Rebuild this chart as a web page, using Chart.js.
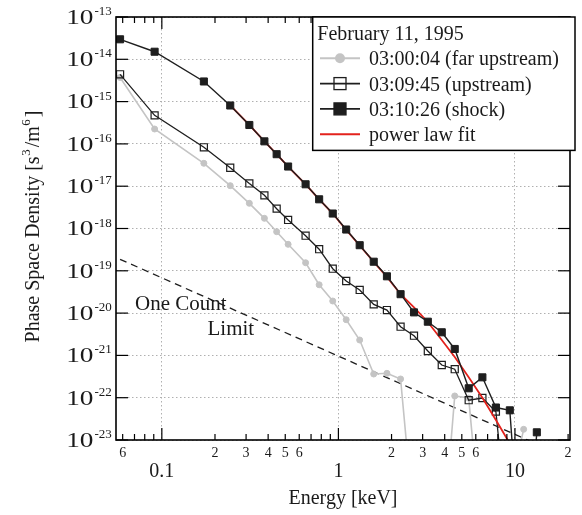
<!DOCTYPE html>
<html><head><meta charset="utf-8">
<script src="https://cdn.jsdelivr.net/npm/chart.js@4"></script>
<style>html,body{margin:0;padding:0;background:#fff}</style>
</head><body>
<canvas id="c" width="582" height="515"></canvas>
<script>
// ---- data ----
const energy = [0.058, 0.091, 0.173, 0.244, 0.313, 0.381, 0.447, 0.519, 0.652, 0.778, 0.929, 1.107, 1.32, 1.585, 1.883, 2.25, 2.68, 3.21, 3.85, 4.56, 5.47, 6.54, 7.80, 9.35, 11.2, 13.3];
const farUpstream = [3.72e-15, 2.25e-16, 3.48e-17, 1.03e-17, 3.94e-18, 1.74e-18, 8.40e-19, 4.23e-19, 1.55e-19, 4.67e-20, 1.93e-20, 6.98e-21, 2.31e-21, 3.63e-22, 3.77e-22, 2.77e-22, 1.0e-25, 3e-26, 2e-26, 1.10e-22, 9.8e-23, 3e-26, 1e-26, 6e-25, 1.79e-23, null];
const upstream = [4.42e-15, 4.74e-16, 8.31e-17, 2.73e-17, 1.16e-17, 6.09e-18, 2.94e-18, 1.59e-18, 6.76e-19, 3.24e-19, 1.12e-19, 5.74e-20, 3.52e-20, 1.61e-20, 1.18e-20, 4.77e-21, 2.92e-21, 1.27e-21, 5.93e-22, 4.72e-22, 8.73e-23, 9.84e-23, 4.67e-23, 2.4e-26, null, null];
const shock = [2.97e-14, 1.51e-14, 2.99e-15, 8.09e-16, 2.80e-16, 1.15e-16, 5.71e-17, 2.92e-17, 1.11e-17, 4.90e-18, 2.26e-18, 9.46e-19, 4.03e-19, 1.64e-19, 7.41e-20, 2.80e-20, 1.04e-20, 6.26e-21, 3.52e-21, 1.42e-21, 1.67e-22, 3.03e-22, 5.86e-23, 5.03e-23, 1.5e-27, 1.52e-23];
const powerLawFit = [null, null, null, 8.09e-16, 2.80e-16, 1.15e-16, 5.71e-17, 2.92e-17, 1.11e-17, 4.90e-18, 2.26e-18, 9.23e-19, 3.96e-19, 1.62e-19, 7.13e-20, 2.82e-20, 1.36e-20, 6.16e-21, 2.31e-21, 9.16e-22, 3.03e-22, 9.95e-23, 2.97e-23, 8.26e-24, null, null];
const limitEnergy = [0.058, 13.3];
const limitValue = [1.87e-19, 8.0e-24];

const xTicks = [0.06, 0.07, 0.08, 0.09, 0.1, 0.2, 0.3, 0.4, 0.5, 0.6, 0.7, 0.8, 0.9, 1, 2, 3, 4, 5, 6, 7, 8, 9, 10, 20];
const xTickLabels = ['6', '', '', '', '', '2', '3', '4', '5', '6', '', '', '', '', '2', '3', '4', '5', '6', '', '', '', '', '2'];
const xMajorTicks = [0.1, 1, 10];
const xMajorLabels = ['0.1', '1', '10'];
const yExponents = [-13, -14, -15, -16, -17, -18, -19, -20, -21, -22, -23];
const yTickLabels = ['-13', '-14', '-15', '-16', '-17', '-18', '-19', '-20', '-21', '-22', '-23'];

const legendTitle = 'February 11, 1995';
const FONT = '"Liberation Serif","Times New Roman",Times,serif';
const INK = '#1e1e1e', GREY = '#c4c4c4', RED = '#e3221c';

const pts = arr => energy.map((e, i) => ({x: e, y: arr[i]}));

const decor = {
  id: 'decor',
  afterDraw(chart) {
    const {ctx, chartArea: a, scales: {x, y}} = chart;
    ctx.save();
    ctx.strokeStyle = '#000';
    ctx.fillStyle = '#1a1a1a';
    const seg = (x1, y1, x2, y2) => { ctx.beginPath(); ctx.moveTo(x1, y1); ctx.lineTo(x2, y2); ctx.stroke(); };
    // tick marks (inside)
    ctx.lineWidth = 1.2;
    xTicks.forEach(v => {
      const px = x.getPixelForValue(v);
      const len = xMajorTicks.includes(v) ? 12 : 6;
      seg(px, a.bottom, px, a.bottom - len);
      seg(px, a.top, px, a.top + len);
    });
    yExponents.forEach(e => {
      const py = y.getPixelForValue(Math.pow(10, e));
      seg(a.left, py, a.left + 12, py);
      seg(a.right, py, a.right - 12, py);
    });
    // frame
    ctx.lineWidth = 1.6;
    ctx.strokeRect(a.left, a.top, a.right - a.left, a.bottom - a.top);

    // x tick labels
    ctx.textAlign = 'center';
    ctx.textBaseline = 'alphabetic';
    ctx.font = '14px ' + FONT;
    xTicks.forEach((v, i) => { if (xTickLabels[i]) ctx.fillText(xTickLabels[i], x.getPixelForValue(v), a.bottom + 16.5); });
    ctx.font = '20px ' + FONT;
    xMajorTicks.forEach((v, i) => ctx.fillText(xMajorLabels[i], x.getPixelForValue(v), a.bottom + 37));
    ctx.fillText('Energy [keV]', (a.left + a.right) / 2, a.bottom + 63.5);

    // y tick labels 10^n
    yExponents.forEach((e, i) => {
      const py = y.getPixelForValue(Math.pow(10, e));
      ctx.save();
      ctx.font = '21px ' + FONT;
      ctx.textAlign = 'right';
      ctx.translate(a.left - 22.5, py + 6.8);
      ctx.scale(1.3, 1);
      ctx.fillText('10', 0, 0);
      ctx.restore();
      ctx.font = '13px ' + FONT;
      ctx.textAlign = 'left';
      ctx.fillText(yTickLabels[i], a.left - 21.5, py - 2);
    });

    // y title with superscripts
    const parts = [
      {t: 'Phase Space Density [s', s: 20, dy: 0, g: 0.5},
      {t: '3', s: 13, dy: -9, g: 2},
      {t: '/m', s: 20, dy: 0, g: 0.5},
      {t: '6', s: 13, dy: -9, g: 2},
      {t: ']', s: 20, dy: 0, g: 0}
    ];
    let w = 0;
    parts.forEach(p => { ctx.font = p.s + 'px ' + FONT; w += ctx.measureText(p.t).width + p.g; });
    ctx.save();
    ctx.translate(38.5, (a.top + a.bottom) / 2 - 2);
    ctx.rotate(-Math.PI / 2);
    ctx.textAlign = 'left';
    let cx = -w / 2;
    parts.forEach(p => { ctx.font = p.s + 'px ' + FONT; ctx.fillText(p.t, cx, p.dy); cx += ctx.measureText(p.t).width + p.g; });
    ctx.restore();

    // annotation for the one-count line
    ctx.font = '21px ' + FONT;
    ctx.textAlign = 'left';
    ctx.fillText('One Count', a.left + 19, a.top + 292.5);
    ctx.fillText('Limit', a.left + 91.5, a.top + 318);

    // legend
    const lx = a.right - 257.3, ly = a.top, lw = 262.3, lh = 133.4;
    ctx.fillStyle = '#fff';
    ctx.fillRect(lx, ly, lw, lh);
    ctx.lineWidth = 1.5;
    ctx.strokeStyle = '#000';
    ctx.strokeRect(lx, ly, lw, lh);
    ctx.fillStyle = '#1a1a1a';
    ctx.font = '20px ' + FONT;
    ctx.fillText(legendTitle, lx + 4.6, ly + 23);
    const order = ['03:00:04 (far upstream)', '03:09:45 (upstream)', '03:10:26 (shock)', 'power law fit'];
    order.forEach((lab, i) => {
      const ds = chart.data.datasets.find(d => d.label === lab);
      const base = ly + 48.3 + i * 25.3;
      const my = base - 7;
      ctx.save();
      ctx.strokeStyle = ds.borderColor;
      ctx.lineWidth = ds.borderWidth + 0.3;
      seg(lx + 7.3, my, lx + 47.3, my);
      const mx = lx + 27.3;
      if (ds.pointStyle === 'circle') {
        ctx.fillStyle = ds.pointBackgroundColor;
        ctx.beginPath(); ctx.arc(mx, my, 5, 0, Math.PI * 2); ctx.fill();
      } else if (ds.pointStyle === 'rect') {
        ctx.lineWidth = 1.3;
        ctx.strokeStyle = ds.pointBorderColor;
        if (ds.pointBackgroundColor !== 'rgba(0,0,0,0)') { ctx.fillStyle = ds.pointBackgroundColor; ctx.fillRect(mx - 6, my - 6, 12, 12); }
        ctx.strokeRect(mx - 6, my - 6, 12, 12);
      }
      ctx.restore();
      ctx.fillStyle = '#1a1a1a';
      ctx.font = '20px ' + FONT;
      ctx.fillText(lab, lx + 56.3, base);
    });
    ctx.restore();
  }
};

new Chart(document.getElementById('c'), {
  type: 'line',
  data: {
    datasets: [
      {label: '03:10:26 (shock)', data: pts(shock), borderColor: INK, borderWidth: 1.4, pointStyle: 'rect', pointRadius: 5, pointBackgroundColor: INK, pointBorderColor: INK, pointBorderWidth: 1, order: 1},
      {label: 'power law fit', data: pts(powerLawFit), borderColor: RED, borderWidth: 1.8, pointRadius: 0, order: 2},
      {label: '03:09:45 (upstream)', data: pts(upstream), borderColor: INK, borderWidth: 1.3, pointStyle: 'rect', pointRadius: 5, pointBackgroundColor: 'rgba(0,0,0,0)', pointBorderColor: INK, pointBorderWidth: 1.2, order: 3},
      {label: '03:00:04 (far upstream)', data: pts(farUpstream), borderColor: GREY, borderWidth: 1.6, pointStyle: 'circle', pointRadius: 3, pointBackgroundColor: GREY, pointBorderColor: GREY, pointBorderWidth: 1, order: 4},
      {label: 'One Count Limit', data: limitEnergy.map((e, i) => ({x: e, y: limitValue[i]})), borderColor: INK, borderWidth: 1.3, borderDash: [7, 5], pointRadius: 0, order: 5}
    ]
  },
  options: {
    responsive: false, animation: false, devicePixelRatio: 1, events: [],
    layout: {padding: {left: 116, top: 17, right: 12, bottom: 75}},
    plugins: {legend: {display: false}, tooltip: {enabled: false}},
    scales: {
      x: {
        type: 'logarithmic', min: 0.055, max: 20.5,
        ticks: {display: false},
        grid: {color: '#b0b0b0', lineWidth: 1, drawTicks: false},
        border: {display: false, dash: [1.5, 2.5]},
        afterBuildTicks: s => { s.ticks = xMajorTicks.map(v => ({value: v})); },
        afterFit: s => { s.height = 0; }
      },
      y: {
        type: 'logarithmic', min: 1e-23, max: 1e-13,
        ticks: {display: false},
        grid: {color: '#b0b0b0', lineWidth: 1, drawTicks: false},
        border: {display: false, dash: [1.5, 2.5]},
        afterBuildTicks: s => { s.ticks = yExponents.map(e => ({value: Math.pow(10, e)})); },
        afterFit: s => { s.width = 0; }
      }
    }
  },
  plugins: [decor]
});
</script>
</body></html>
